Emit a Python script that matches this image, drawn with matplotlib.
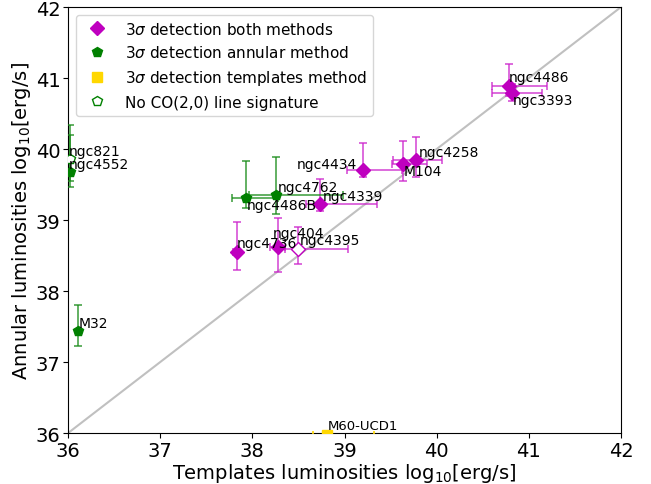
import numpy as np
import matplotlib
matplotlib.use("Agg")
import matplotlib.pyplot as plt
from matplotlib.lines import Line2D

plt.rcParams["font.family"] = ["DejaVu Sans"]
plt.rcParams["mathtext.fontset"] = "dejavusans"

# 3 sigma detection, both methods (magenta diamonds)
both_names = ["ngc4486", "ngc3393", "ngc4258", "M104", "ngc4434", "ngc4339", "ngc4736", "ngc404"]
both_x = [40.78, 40.82, 39.78, 39.63, 39.20, 38.73, 37.83, 38.28]
both_y = [40.89, 40.79, 39.85, 39.79, 39.70, 39.23, 38.55, 38.62]
both_xlo = [0.18, 0.22, 0.25, 0.12, 0.17, 0.15, 0.04, 0.09]
both_xhi = [0.42, 0.32, 0.28, 0.27, 0.42, 0.62, 0.04, 0.07]
both_ylo = [0.15, 0.12, 0.24, 0.24, 0.09, 0.10, 0.25, 0.35]
both_yhi = [0.31, 0.12, 0.32, 0.32, 0.38, 0.35, 0.42, 0.41]

# no CO signature, both methods (open magenta)
nosig_both_names = ["ngc4395"]
nosig_both_x = [38.50]
nosig_both_y = [38.59]
nosig_both_xlo = [0.15]
nosig_both_xhi = [0.54]
nosig_both_ylo = [0.21]
nosig_both_yhi = [0.31]

# 3 sigma detection, annular method (green pentagons)
ann_names = ["ngc4762", "ngc4486B", "ngc4552", "M32"]
ann_x = [38.26, 37.93, 36.02, 36.11]
ann_y = [39.35, 39.31, 39.68, 37.44]
ann_xlo = [0.30, 0.15, 0.0, 0.0]
ann_xhi = [0.72, 0.35, 0.0, 0.0]
ann_ylo = [0.27, 0.14, 0.13, 0.21]
ann_yhi = [0.54, 0.52, 0.52, 0.36]

# no CO signature, annular method (open green pentagons)
nosig_ann_names = ["ngc821"]
nosig_ann_x = [36.02]
nosig_ann_y = [39.86]
nosig_ann_ylo = [0.40]
nosig_ann_yhi = [0.48]

# 3 sigma detection, templates method (gold squares)
tmp_names = ["M60-UCD1"]
tmp_x = [38.81]
tmp_y = [35.97]
tmp_xlo = [0.15]
tmp_xhi = [0.51]

# label offsets (dx, dy, ha) in data units
offsets = {
    "ngc4486": (0.0, 0.12, "left"), "ngc3393": (0.0, -0.10, "left"),
    "ngc4258": (0.02, 0.11, "left"), "M104": (0.01, -0.10, "left"),
    "ngc4434": (-0.06, 0.09, "right"), "ngc4339": (0.03, 0.11, "left"),
    "ngc4736": (0.0, 0.13, "left"), "ngc404": (-0.06, 0.20, "left"),
    "ngc4395": (0.01, 0.13, "left"), "ngc4762": (0.01, 0.12, "left"),
    "ngc4486B": (0.01, -0.10, "left"), "ngc4552": (-0.01, 0.11, "left"),
    "ngc821": (-0.01, 0.11, "left"), "M32": (0.01, 0.11, "left"),
    "M60-UCD1": (0.01, 0.14, "left"),
}

fig = plt.figure(figsize=(6.51, 4.85), dpi=100)
ax = fig.add_axes([0.1045, 0.105, 0.8495, 0.8785])

ax.plot([36, 42], [36, 42], color="silver", lw=1.5, zorder=1)

ekw = dict(capsize=3, elinewidth=1.2, capthick=1.2, zorder=3)
ax.errorbar(both_x, both_y, xerr=[both_xlo, both_xhi], yerr=[both_ylo, both_yhi],
            fmt="D", color="m", ms=7, ecolor=(0.8, 0.15, 0.8, 0.8), **ekw)
ax.errorbar(nosig_both_x, nosig_both_y, xerr=[nosig_both_xlo, nosig_both_xhi],
            yerr=[nosig_both_ylo, nosig_both_yhi], fmt="D", mfc="white", mec="m",
            color="m", ms=7, ecolor=(0.8, 0.15, 0.8, 0.8), **ekw)
ax.errorbar(ann_x, ann_y, xerr=[ann_xlo, ann_xhi], yerr=[ann_ylo, ann_yhi],
            fmt="p", color="g", ms=7, ecolor=(0.1, 0.55, 0.1, 0.8), **ekw)
ax.errorbar(nosig_ann_x, nosig_ann_y, yerr=[nosig_ann_ylo, nosig_ann_yhi],
            fmt="p", mfc="white", mec="g", color="g", ms=7,
            ecolor=(0.1, 0.55, 0.1, 0.8), **ekw)
ax.errorbar(tmp_x, tmp_y, xerr=[tmp_xlo, tmp_xhi], fmt="s", color="gold", ms=7,
            ecolor="gold", **ekw)

for names, xs, ys in [(both_names, both_x, both_y), (nosig_both_names, nosig_both_x, nosig_both_y),
                      (ann_names, ann_x, ann_y), (nosig_ann_names, nosig_ann_x, nosig_ann_y),
                      (tmp_names, tmp_x, tmp_y)]:
    for n, x, y in zip(names, xs, ys):
        dx, dy, ha = offsets[n]
        fs = 9.5 if n == "M60-UCD1" else 10
        ax.text(x + dx, y + dy, n, fontsize=fs, ha=ha, va="center", zorder=5)

ax.set_xlim(36, 42)
ax.set_ylim(36, 42)
ax.tick_params(labelsize=14, pad=2)
ax.set_xlabel(r"Templates luminosities log$_{10}$[erg/s]", fontsize=14, labelpad=1)
ax.set_ylabel(r"Annular luminosities log$_{10}$[erg/s]", fontsize=14, labelpad=2)

handles = [
    Line2D([], [], ls="none", marker="D", color="m", ms=7),
    Line2D([], [], ls="none", marker="p", color="g", ms=7),
    Line2D([], [], ls="none", marker="s", color="gold", ms=7),
    Line2D([], [], ls="none", marker="p", mfc="white", mec="g", ms=7),
]
labels = [r"3$\sigma$ detection both methods", r"3$\sigma$ detection annular method",
          r"3$\sigma$ detection templates method", "No CO(2,0) line signature"]
ax.legend(handles, labels, loc="upper left", fontsize=11, numpoints=1)

fig.savefig("out.png", dpi=100)
